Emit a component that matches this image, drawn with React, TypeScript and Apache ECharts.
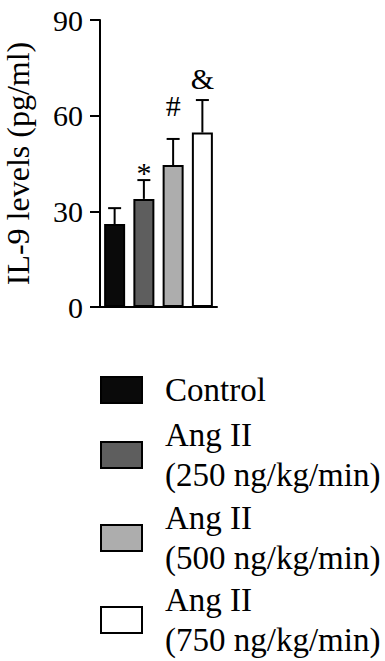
import React, { useEffect, useRef } from "react";
import * as echarts from "echarts";

const categories = [
  "Control",
  "Ang II\n(250 ng/kg/min)",
  "Ang II\n(500 ng/kg/min)",
  "Ang II\n(750 ng/kg/min)",
];
const means = [26.0, 33.9, 44.5, 54.7];
const errors = [5.0, 5.9, 8.2, 10.2];
const markers = ["", "*", "#", "&"];
const markerLevels = [0, 42.3, 63.3, 71.8];
const yTicks = [0, 30, 60, 90];

const fills = ["#0a0a0a", "#5e5e5e", "#adadad", "#ffffff"];
const legendTops = [370, 415, 498, 580];
const FONT = "Liberation Serif";

export default function App() {
  const ref = useRef<HTMLDivElement>(null);
  useEffect(() => {
    if (!ref.current) return;
    const chart = echarts.init(ref.current, undefined, { renderer: "svg" });
    const barSeries = categories.map((name, i) => ({
      name,
      type: "bar",
      stack: "all",
      barWidth: 21,
      data: categories.map((_, j) => (j === i ? means[j] : "-")),
      itemStyle: { color: fills[i], borderColor: "#000", borderWidth: 2 },
      z: 2,
    }));
    const legends = categories.map((name, i) => ({
      orient: "vertical",
      left: 100,
      top: legendTops[i],
      padding: 0,
      itemWidth: 41,
      itemHeight: 26,
      icon: "rect",
      data: [name],
      selectedMode: false,
      textStyle: {
        fontFamily: FONT,
        fontSize: 33,
        lineHeight: 40,
        color: "#000",
        padding: [0, 0, 0, 18],
      },
    }));
    const option: any = {
      animation: false,
      grid: { left: 100, right: 168, top: 20, bottom: 354 },
      xAxis: {
        type: "category",
        data: categories,
        axisLine: { lineStyle: { color: "#000", width: 2 } },
        axisTick: { show: false },
        axisLabel: { show: false },
        splitLine: { show: false },
      },
      yAxis: {
        type: "value",
        min: yTicks[0],
        max: yTicks[yTicks.length - 1],
        interval: 30,
        name: "IL-9 levels (pg/ml)",
        nameLocation: "middle",
        nameGap: 66,
        nameTextStyle: { fontFamily: FONT, fontSize: 32, color: "#000" },
        axisLine: { show: true, lineStyle: { color: "#000", width: 2 } },
        axisTick: { show: true, length: 10, lineStyle: { color: "#000", width: 2 } },
        axisLabel: { fontFamily: FONT, fontSize: 30, color: "#000", margin: 17 },
        splitLine: { show: false },
      },
      legend: legends,
      series: [
        ...barSeries,
        {
          type: "custom",
          name: "errors",
          z: 3,
          data: means.map((m, i) => [i, m, errors[i]]),
          renderItem: (params: any, api: any) => {
            const idx = api.value(0);
            const m = api.value(1);
            const e = api.value(2);
            const p0 = api.coord([idx, m]);
            const p1 = api.coord([idx, m + e]);
            const half = 6.5;
            const children: any[] = [
              {
                type: "line",
                shape: { x1: p0[0], y1: p0[1], x2: p1[0], y2: p1[1] },
                style: { stroke: "#000", lineWidth: 2 },
              },
              {
                type: "line",
                shape: { x1: p1[0] - half, y1: p1[1], x2: p1[0] + half, y2: p1[1] },
                style: { stroke: "#000", lineWidth: 2 },
              },
            ];
            const mk = markers[params.dataIndex];
            if (mk) {
              const pm = api.coord([idx, markerLevels[params.dataIndex]]);
              children.push({
                type: "text",
                style: {
                  text: mk,
                  x: pm[0],
                  y: pm[1],
                  align: "center",
                  verticalAlign: "middle",
                  fontFamily: FONT,
                  fontSize: 30,
                  fill: "#000",
                },
              });
            }
            return { type: "group", children };
          },
        },
      ],
    };
    chart.setOption(option);
    return () => chart.dispose();
  }, []);
  return (
    <div
      ref={ref}
      style={{ position: "fixed", left: 0, top: 0, width: 385, height: 661, background: "#fff" }}
    />
  );
}
